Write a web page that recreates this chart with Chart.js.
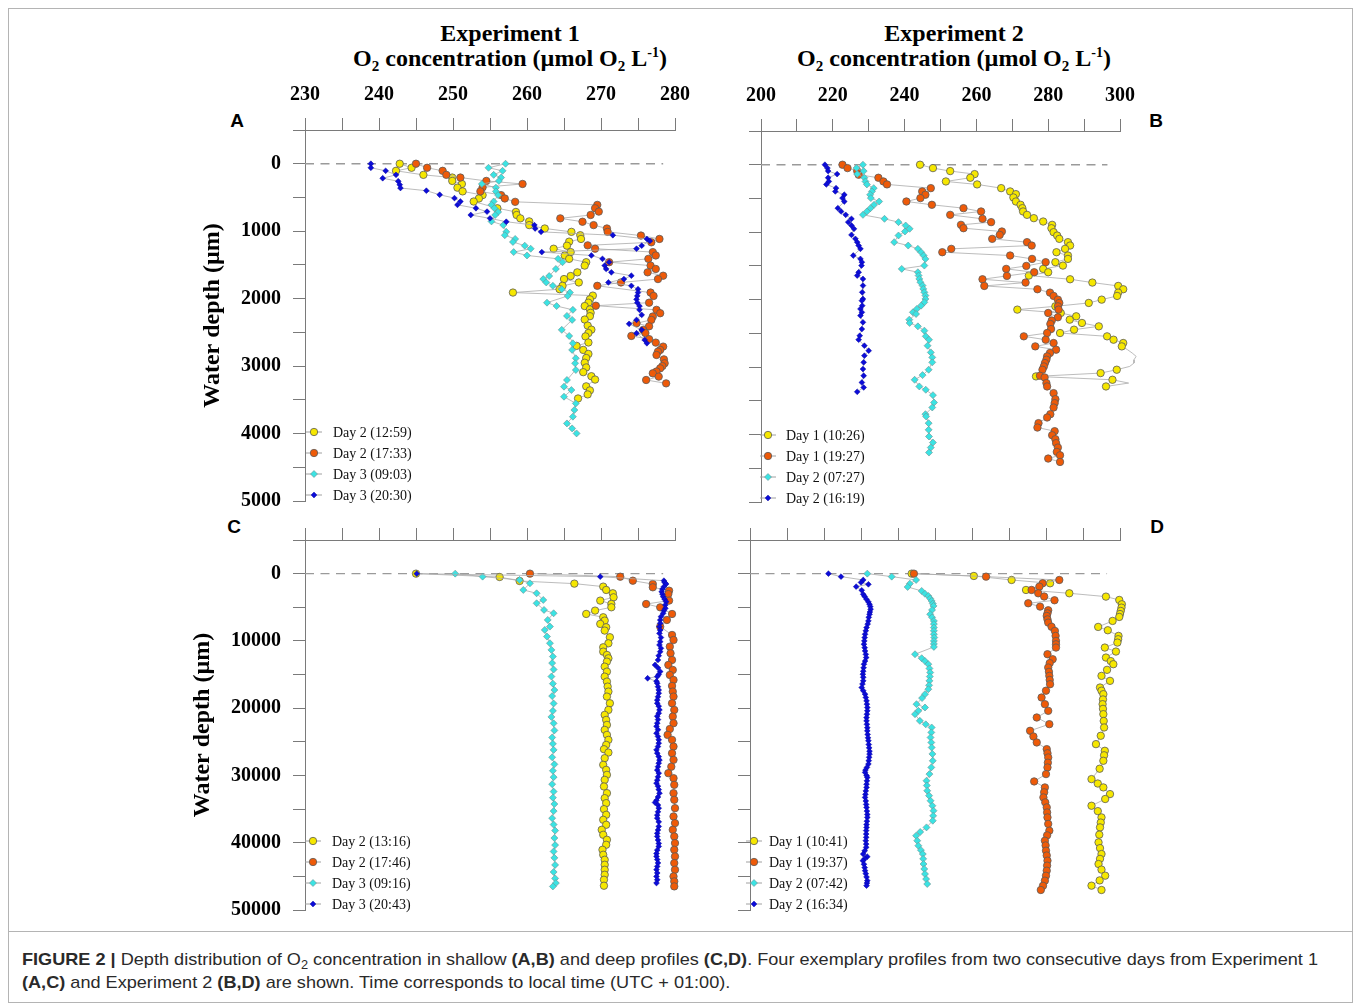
<!DOCTYPE html>
<html>
<head>
<meta charset="utf-8">
<script src="https://cdn.jsdelivr.net/npm/chart.js@4.4.0/dist/chart.umd.min.js"></script>
<style>
  body { margin: 0; background: #fff; width: 1360px; height: 1003px; position: relative; overflow: hidden; }
  canvas { position: absolute; }
  .ttl { position: absolute; font: bold 24px "Liberation Serif"; line-height: 26px; white-space: nowrap; transform: translateX(-50%); color: #000; }
  .ttl sub { font-size: 15px; vertical-align: -5px; line-height: 0; }
  .ttl sup { font-size: 14px; vertical-align: 9px; line-height: 0; }
  .letter { position: absolute; font: bold 19px "Liberation Sans"; line-height: 20px; transform: translate(-50%, -50%); }
  #frame { position: absolute; left: 8px; top: 8px; width: 1343px; height: 993px; border: 1px solid #b4b4b4; }
  #sep { position: absolute; left: 8px; top: 931px; width: 1345px; height: 1px; background: #b4b4b4; }
  .cap { position: absolute; left: 22px; font: 17px "Liberation Sans"; line-height: 20px; color: #2a2a2a; white-space: nowrap; transform-origin: 0 50%; }
  .cap sub { font-size: 12px; line-height: 0; }
</style>
</head>
<body>
<div id="frame"></div>
<div id="sep"></div>

<div class="ttl" style="left:510px; top:20px;">Experiment 1</div>
<div class="ttl" style="left:510px; top:45px;">O<sub>2</sub> concentration (µmol O<sub>2</sub> L<sup>-1</sup>)</div>
<div class="ttl" style="left:954px; top:20px;">Experiment 2</div>
<div class="ttl" style="left:954px; top:45px;">O<sub>2</sub> concentration (µmol O<sub>2</sub> L<sup>-1</sup>)</div>

<div class="letter" style="left:237px; top:121px;">A</div>
<div class="letter" style="left:1156px; top:121px;">B</div>
<div class="letter" style="left:234px; top:527px;">C</div>
<div class="letter" style="left:1157px; top:527px;">D</div>

<canvas id="cA" width="505" height="446" style="left:190px; top:70px;"></canvas>
<canvas id="cB" width="405" height="447" style="left:735px; top:70px;"></canvas>
<canvas id="cC" width="515" height="410" style="left:180px; top:515px;"></canvas>
<canvas id="cD" width="405" height="410" style="left:735px; top:515px;"></canvas>

<div class="cap" id="cap1" style="top:950px;"><b>FIGURE 2 |</b> Depth distribution of O<sub>2</sub> concentration in shallow <b>(A,B)</b> and deep profiles <b>(C,D)</b>. Four exemplary profiles from two consecutive days from Experiment 1</div>
<div class="cap" id="cap2" style="top:973px;"><b>(A,C)</b> and Experiment 2 <b>(B,D)</b> are shown. Time corresponds to local time (UTC + 01:00).</div>

<script>
// tick labels
const exp1Labels = [230, 240, 250, 260, 270, 280];
const exp2Labels = [200, 220, 240, 260, 280, 300];
const shallowLabels = [0, 1000, 2000, 3000, 4000, 5000];
const deepLabels = [0, 10000, 20000, 30000, 40000, 50000];

// legend names
const namesA = ["Day 2 (12:59)", "Day 2 (17:33)", "Day 3 (09:03)", "Day 3 (20:30)"];
const namesB = ["Day 1 (10:26)", "Day 1 (19:27)", "Day 2 (07:27)", "Day 2 (16:19)"];
const namesC = ["Day 2 (13:16)", "Day 2 (17:46)", "Day 3 (09:16)", "Day 3 (20:43)"];
const namesD = ["Day 1 (10:41)", "Day 1 (19:37)", "Day 2 (07:42)", "Day 2 (16:34)"];

// dashed surface line (x extent, depth 0)
const surfaceExp1 = [230, 278.4];
const surfaceExp2 = [200, 296.5];

// profiles: [O2, depth]
// panel A (Experiment 1, shallow)
const aDay2_1259 = [[242.8,0],[244.4,60],[242.3,105],[246.0,165],[249.9,205],[249.9,255],[251.2,300],[250.6,355],[251.3,410],[254.0,465],[253.5,515],[252.8,560],[256.0,660],[258.5,715],[258.6,760],[259.1,810],[260.3,855],[260.3,910],[262.4,960],[266.0,1010],[267.2,1060],[267.3,1115],[265.7,1155],[265.4,1215],[263.6,1260],[265.9,1310],[265.1,1360],[265.7,1410],[268.0,1460],[267.8,1510],[266.8,1610],[265.9,1665],[265.0,1710],[267.0,1760],[264.8,1810],[264.4,1860],[258.1,1910],[268.9,1955],[268.5,2010],[268.3,2060],[267.8,2110],[268.5,2160],[268.6,2210],[268.5,2260],[267.8,2310],[268.2,2400],[268.7,2460],[268.3,2510],[267.9,2560],[268.3,2650],[266.7,2700],[267.6,2760],[268.3,2820],[268.0,2880],[267.8,2950],[268.0,3020],[267.6,3090],[268.7,3150],[269.2,3200],[268.0,3300],[268.5,3360],[268.2,3420],[266.9,3480]];
const aDay2_1733 = [[245.0,0],[246.5,60],[248.6,105],[249.1,165],[251.0,205],[254.5,255],[259.4,300],[254.0,350],[253.7,410],[256.5,465],[257.0,515],[258.4,565],[269.5,610],[269.2,660],[269.7,710],[268.6,760],[264.5,810],[267.5,860],[269.0,910],[270.8,960],[270.9,1010],[275.4,1065],[277.9,1115],[276.8,1165],[268.2,1210],[269.2,1260],[277.0,1310],[277.4,1360],[276.4,1410],[271.1,1460],[276.7,1510],[277.4,1560],[276.3,1610],[278.4,1660],[277.7,1710],[272.7,1760],[269.5,1810],[276.7,1910],[277.1,1960],[276.5,2060],[269.3,2105],[277.5,2166],[278.0,2216],[277.0,2265],[276.8,2315],[274.8,2365],[276.5,2410],[275.7,2463],[276.0,2510],[274.1,2553],[276.5,2600],[277.4,2652],[278.4,2711],[278.0,2760],[277.7,2785],[277.5,2835],[278.5,2900],[278.6,2958],[278.3,3000],[278.0,3033],[277.5,3080],[277.0,3107],[277.8,3156],[276.1,3206],[278.8,3256]];
const aDay3_0903 = [[257.1,0],[254.8,60],[256.7,105],[255.5,165],[256.5,205],[256.2,255],[253.9,300],[255.8,355],[255.8,410],[256.1,465],[255.5,560],[255.2,610],[255.6,660],[256.1,715],[255.7,760],[255.2,855],[256.8,910],[257.2,1010],[257.0,1060],[258.4,1115],[258.1,1160],[259.7,1215],[260.5,1260],[258.2,1310],[260.0,1360],[264.2,1410],[264.8,1460],[263.9,1560],[263.0,1665],[262.2,1710],[262.6,1760],[263.5,1810],[264.7,1860],[265.8,1910],[265.5,1960],[262.7,2060],[264.0,2110],[266.2,2166],[265.4,2256],[266.1,2315],[264.7,2463],[265.7,2553],[266.2,2662],[266.1,2760],[266.6,2884],[266.5,2958],[266.6,3058],[265.4,3206],[265.0,3305],[266.0,3355],[265.0,3454],[266.6,3553],[266.4,3651],[266.2,3750],[265.4,3850],[266.1,3924],[266.7,3998]];
const aDay3_2030 = [[238.9,0],[238.9,60],[240.9,105],[242.3,165],[240.5,215],[242.6,260],[242.8,310],[242.9,360],[246.4,400],[248.2,460],[250.2,510],[251.0,560],[250.6,610],[253.1,660],[254.6,710],[252.4,760],[255.0,810],[257.2,860],[261.0,910],[261.1,960],[261.9,1010],[271.6,1060],[276.2,1115],[276.6,1145],[275.5,1215],[274.8,1260],[262.0,1310],[268.7,1360],[270.2,1410],[271.1,1460],[270.5,1510],[270.7,1560],[271.4,1610],[274.1,1660],[273.1,1710],[271.0,1760],[274.1,1810],[275.0,1860],[275.0,1910],[274.9,1960],[274.8,2010],[274.9,2060],[275.2,2110],[275.2,2166],[275.5,2241],[274.8,2315],[273.8,2374],[275.5,2463],[274.8,2513],[275.9,2612],[276.2,2662]];

// panel B (Experiment 2, shallow)
const bDay1_1026 = [[244.3,0],[247.9,50],[252.7,94],[259.5,139],[258.3,193],[251.5,248],[260.2,292],[266.9,347],[269.4,396],[271.0,436],[270.3,485],[271.0,545],[272.3,594],[272.8,644],[273.0,693],[274.1,743],[276.0,792],[278.6,842],[281.1,891],[280.9,941],[281.5,1000],[282.5,1050],[283.1,1099],[285.5,1148],[286.1,1198],[284.7,1247],[282.3,1297],[285.5,1346],[285.5,1396],[282.0,1445],[284.1,1495],[278.6,1544],[280.0,1594],[274.6,1643],[286.1,1698],[292.3,1747],[299.5,1797],[300.9,1846],[299.5,1896],[299.2,1945],[294.9,2000],[291.3,2049],[282.0,2099],[271.4,2148],[283.5,2198],[287.8,2247],[286.0,2297],[289.4,2346],[294.1,2396],[287.2,2445],[283.3,2495],[296.4,2544],[298.2,2594],[300.9,2643],[300.5,2693],[302.1,2742],[303.4,2792],[304.5,2841],[303.9,2891],[303.9,2940],[302.7,2990],[299.1,3039],[294.6,3089],[276.6,3138],[297.9,3188],[302.4,3237],[296.1,3287]];
const bDay1_1927 = [[222.7,0],[224.1,50],[226.8,94],[227.2,148],[232.7,193],[234.1,248],[235.1,292],[247.3,347],[244.9,396],[245.8,445],[244.4,495],[240.5,545],[247.6,594],[256.4,644],[261.3,693],[252.7,743],[261.7,802],[264.1,851],[255.7,891],[256.4,941],[267.1,990],[266.5,1040],[264.4,1099],[274.1,1148],[275.4,1198],[253.0,1247],[250.5,1297],[269.4,1346],[275.5,1396],[279.3,1445],[273.9,1500],[268.3,1544],[276.1,1594],[268.5,1648],[261.7,1698],[273.7,1747],[262.2,1797],[277.0,1846],[280.5,1896],[281.5,1945],[282.7,2000],[283.1,2049],[282.7,2099],[282.9,2148],[280.0,2198],[282.7,2262],[281.0,2310],[280.6,2361],[280.8,2436],[279.7,2495],[273.2,2544],[279.3,2594],[281.5,2643],[276.4,2693],[282.2,2742],[280.5,2790],[279.7,2841],[279.5,2890],[279.1,2940],[278.8,2990],[278.4,3039],[277.7,3128],[279.0,3153],[279.5,3237],[279.7,3287],[281.5,3386],[282.0,3475],[281.8,3534],[281.5,3599],[280.6,3698],[279.7,3747],[277.3,3831],[277.0,3896],[281.8,3950],[281.1,4010],[282.0,4069],[282.2,4128],[282.7,4193],[282.4,4257],[283.3,4307],[280.0,4356],[283.3,4406]];
const bDay2_0727 = [[228.4,0],[226.6,50],[228.6,94],[226.8,139],[228.8,193],[229.1,248],[229.5,292],[231.4,347],[230.9,396],[230.4,445],[230.6,495],[232.9,545],[231.5,594],[230.5,644],[229.5,693],[228.4,743],[234.4,802],[238.3,851],[240.3,901],[241.4,950],[240.1,990],[238.3,1049],[237.1,1148],[241.0,1198],[243.7,1247],[244.6,1297],[245.3,1346],[245.8,1396],[245.5,1495],[239.2,1544],[243.7,1594],[243.9,1643],[244.1,1693],[244.4,1742],[245.0,1792],[245.2,1841],[245.5,1891],[245.8,1940],[245.8,1990],[245.5,2039],[244.6,2089],[243.4,2138],[242.3,2188],[243.2,2213],[241.3,2297],[241.4,2346],[243.7,2396],[245.5,2460],[245.9,2544],[246.8,2594],[246.4,2683],[247.3,2782],[247.7,2856],[247.7,2930],[246.7,3039],[245.0,3119],[242.8,3188],[244.1,3287],[245.9,3336],[247.9,3416],[248.2,3525],[247.7,3599],[245.8,3698],[246.0,3732],[246.7,3831],[246.7,3930],[246.8,4029],[247.9,4119],[247.3,4193],[246.8,4267]];
const bDay2_1619 = [[217.8,0],[218.5,50],[218.7,94],[221.2,139],[218.7,193],[218.9,248],[218.2,292],[220.9,347],[220.7,396],[223.2,445],[222.7,495],[223.2,545],[221.4,644],[222.3,693],[223.6,743],[225.2,802],[224.3,851],[225.2,901],[225.9,950],[225.2,1040],[226.3,1099],[226.8,1148],[227.2,1198],[227.7,1247],[225.7,1346],[227.7,1396],[228.1,1445],[228.0,1495],[227.2,1594],[226.8,1643],[228.4,1693],[228.4,1792],[228.2,1891],[228.4,1990],[228.1,2015],[228.2,2089],[227.7,2138],[228.1,2188],[227.7,2237],[228.4,2336],[228.1,2436],[227.5,2535],[227.2,2594],[228.8,2683],[230.0,2757],[228.8,2831],[228.6,2930],[228.4,3029],[228.6,3128],[228.1,3228],[228.6,3302],[226.8,3366]];

// panel C (Experiment 1, deep)
const cDay2_1316 = [[245.0,0],[256.3,500],[259.0,1090],[266.4,1485],[270.3,1930],[270.7,2425],[271.6,2920],[271.7,3515],[269.9,4010],[271.4,4505],[271.4,5000],[269.2,5495],[268.0,5990],[270.3,6485],[270.5,6980],[269.9,7475],[270.7,7970],[270.5,8465],[271.2,9455],[271.0,10356],[270.3,10950],[270.3,11593],[270.8,12088],[271.0,12583],[270.8,13078],[270.5,13821],[270.8,14563],[270.5,15306],[270.8,16048],[270.9,16791],[271.0,17533],[270.8,18276],[271.2,19266],[271.0,20256],[270.5,20998],[270.7,21741],[270.8,22483],[270.5,23226],[270.8,23968],[271.0,24711],[270.7,25453],[270.4,26097],[271.0,26592],[270.5,27433],[270.3,28423],[270.7,29166],[270.8,29908],[270.5,30651],[270.4,31641],[270.8,32631],[270.5,33373],[270.7,34116],[270.4,35007],[270.7,35848],[270.3,36591],[270.7,37333],[270.1,38076],[270.3,38818],[270.8,39561],[270.7,40303],[270.2,41046],[270.3,41788],[270.5,42531],[270.5,43273],[270.5,44016],[270.5,44758],[270.4,45501],[270.4,46392]];
const cDay2_1746 = [[260.4,0],[272.6,455],[274.3,1049],[277.0,1544],[277.0,2030],[279.2,2534],[279.1,3029],[279.2,4010],[276.1,4514],[278.0,5009],[279.6,5999],[278.9,6890],[278.0,7880],[279.6,9118],[279.8,9860],[279.3,10850],[279.4,11840],[279.6,12830],[279.1,13573],[279.7,14315],[279.3,15058],[279.8,15800],[279.6,16692],[279.7,17533],[279.8,18276],[279.6,19266],[279.9,20256],[279.7,21246],[279.8,22236],[279.3,23100],[279.0,23968],[279.6,24711],[279.8,25701],[279.6,26691],[279.8,27681],[279.5,28700],[279.1,29661],[279.8,30403],[279.9,31394],[279.8,32631],[279.9,33621],[280.0,34859],[279.8,36096],[280.0,37086],[279.7,38076],[279.9,39066],[280.0,40056],[279.9,41046],[280.0,42036],[279.9,43026],[280.0,44016],[279.8,45006],[279.9,45749],[279.9,46491]];
const cDay3_0916 = [[250.3,0],[254.0,446],[259.0,941],[260.4,1436],[259.5,2426],[261.3,2921],[262.2,3911],[261.3,4406],[262.3,5396],[263.6,5891],[262.8,6881],[263.1,7871],[262.4,8366],[262.7,9356],[263.1,10346],[263.3,11336],[263.5,12326],[263.4,13300],[263.6,14250],[263.3,15300],[263.5,16350],[263.7,17300],[263.4,18200],[263.6,19300],[263.5,20400],[263.3,21300],[263.6,22250],[263.7,23300],[263.4,24350],[263.5,25300],[263.6,26200],[263.4,27300],[263.7,28350],[263.5,29300],[263.6,30250],[263.4,31300],[263.6,32400],[263.5,33300],[263.7,34250],[263.6,35300],[263.4,36350],[263.6,37300],[263.8,38200],[263.7,39300],[263.8,40350],[263.6,41300],[263.7,42250],[263.8,43300],[263.6,44350],[263.8,45300],[263.9,46000],[263.5,46500]];
const cDay3_2043 = [[245.1,0],[269.9,455],[278.5,1049],[278.6,1300],[278.8,1544],[278.5,1931],[278.3,2300],[278.2,2683],[278.3,3050],[278.4,3425],[278.6,3800],[278.8,4168],[278.7,4650],[278.7,5158],[278.5,5500],[278.4,5900],[278.1,6395],[278.0,6900],[278.0,7385],[277.9,7900],[278.0,8400],[277.9,8870],[278.1,9500],[278.0,10108],[277.9,10600],[278.1,11100],[278.0,11593],[277.8,12200],[277.7,12830],[277.3,13573],[277.7,14000],[278.0,14563],[277.8,15000],[277.6,15306],[276.3,15553],[277.5,16000],[277.6,16296],[277.7,16800],[277.8,17300],[277.8,17781],[277.7,18300],[277.6,18800],[277.6,19266],[277.8,19700],[277.9,20251],[277.8,20751],[277.6,21200],[277.7,21700],[277.6,22236],[277.5,22700],[277.7,23200],[277.5,23721],[277.7,24200],[277.8,24700],[277.8,25206],[277.7,25700],[277.5,26200],[277.6,26691],[277.8,27200],[277.9,27700],[277.8,28176],[277.7,28700],[277.6,29200],[277.8,29661],[277.7,30200],[277.6,30700],[277.5,31146],[277.7,31600],[277.8,32100],[277.9,32631],[277.7,33200],[277.5,33700],[277.3,34017],[277.7,34400],[277.8,34859],[277.7,35400],[277.6,35900],[277.6,36344],[277.8,36900],[277.8,37581],[277.7,38100],[277.6,38600],[277.6,39066],[277.7,39600],[277.8,40100],[277.8,40551],[277.6,41100],[277.5,41600],[277.5,42036],[277.6,42500],[277.7,43000],[277.6,43521],[277.5,44000],[277.6,44500],[277.5,45006],[277.6,45500],[277.5,45996]];

// panel D (Experiment 2, deep)
const dDay1_1041 = [[243.7,0],[260.5,347],[270.7,941],[281.1,1436],[274.6,2426],[286.3,2921],[296.2,3416],[299.8,3911],[300.5,4554],[300.4,5050],[300.2,5544],[300.0,6000],[299.8,6435],[298.0,7029],[294.1,7920],[296.7,8415],[299.6,9257],[299.5,9750],[299.3,10247],[295.9,10989],[298.9,11583],[296.2,12474],[297.5,13000],[298.2,13464],[296.5,14300],[295.0,15197],[297.3,15939],[294.6,16929],[295.0,17400],[295.5,17919],[295.4,18700],[295.3,19404],[295.4,20100],[295.5,20889],[295.6,21900],[295.7,22869],[294.8,24100],[293.5,25344],[295.9,26334],[295.7,27000],[295.5,27819],[294.5,29000],[292.3,30542],[294.0,31200],[295.5,31779],[297.3,32769],[296.0,33500],[292.3,34502],[294.0,35300],[295.0,36234],[294.8,37000],[294.6,37719],[294.4,38800],[294.2,39947],[294.6,40800],[295.0,41679],[294.6,42400],[294.2,43164],[295.0,44000],[296.0,44897],[294.5,45600],[292.3,46382],[295.0,47025]];
const dDay1_1937 = [[244.3,0],[263.8,446],[283.6,941],[279.1,1436],[278.2,1931],[276.1,2426],[277.9,2921],[279.5,3400],[282.3,3960],[275.2,4406],[278.4,4901],[280.6,5445],[280.4,5900],[280.2,6287],[280.4,6800],[280.6,7277],[281.5,7900],[282.4,8514],[282.6,9250],[282.7,9999],[282.7,10500],[282.7,10989],[280.4,11979],[281.8,12722],[281.0,13300],[280.6,13959],[280.8,14600],[280.9,15197],[281.0,15800],[281.1,16434],[280.0,17400],[278.8,18414],[279.7,19404],[280.6,20394],[277.5,21384],[280.9,22374],[275.7,23364],[276.6,24200],[277.5,25097],[280.2,26087],[280.4,26700],[280.6,27324],[280.5,28100],[280.4,28809],[280.0,29800],[276.8,30888],[279.7,31779],[279.5,32500],[279.3,33264],[279.8,34000],[280.2,34749],[280.3,35500],[280.4,36234],[280.6,37200],[280.9,38214],[280.3,38900],[279.7,39699],[279.9,40400],[280.0,41184],[280.2,41900],[280.4,42669],[280.3,43400],[280.2,44154],[280.0,44900],[279.7,45639],[279.2,46400],[278.6,47025]];
const dDay2_0742 = [[231.7,0],[238.3,446],[244.9,941],[243.2,1485],[242.6,1980],[246.4,2574],[247.3,3000],[248.2,3317],[248.7,3700],[249.1,4059],[249.4,4450],[249.6,4802],[249.2,5400],[248.7,6039],[249.2,6500],[249.7,7029],[249.7,7500],[249.7,8019],[249.7,8500],[249.7,9009],[249.8,9500],[249.7,9999],[249.7,10450],[249.7,10890],[244.6,11979],[246.4,12573],[247.3,13000],[248.2,13464],[248.5,14100],[248.7,14702],[248.6,15300],[248.5,15939],[248.4,16600],[248.2,17177],[247.3,17919],[246.5,18500],[245.0,19404],[247.3,19899],[245.5,20400],[244.6,20889],[245.9,21879],[247.5,22400],[249.1,22869],[249.0,23600],[248.8,24354],[249.0,25100],[249.1,25839],[249.3,26800],[249.4,27819],[249.0,28800],[248.5,29799],[247.7,30789],[247.8,31500],[247.9,32274],[248.4,33000],[248.8,33759],[249.3,34500],[249.6,35244],[249.5,36000],[249.4,36729],[247.7,37719],[246.0,38400],[244.9,38957],[245.2,39700],[245.5,40442],[246.2,41100],[246.7,41679],[246.8,42400],[246.9,43164],[247.1,43900],[247.3,44649],[247.6,45400],[247.9,46134]];
const dDay2_1634 = [[221.2,0],[224.6,446],[230.6,941],[230.0,1300],[232.0,1584],[228.7,1931],[230.2,2475],[230.6,3069],[231.0,3400],[231.5,3812],[232.0,4200],[232.3,4554],[232.5,4900],[232.6,5297],[232.4,5700],[232.3,6039],[232.1,6500],[232.0,7029],[231.8,7500],[231.5,8019],[231.3,8500],[231.1,9009],[231.0,9500],[230.9,10000],[230.8,10494],[231.0,11000],[231.1,11484],[231.3,12000],[231.4,12474],[231.1,13000],[230.8,13464],[230.7,14000],[230.6,14500],[230.5,14949],[230.6,15400],[230.6,15939],[230.4,16400],[230.2,16929],[230.6,17400],[231.1,17919],[231.3,18400],[231.5,18909],[231.6,19400],[231.7,19900],[231.7,20394],[231.6,20900],[231.5,21400],[231.5,21879],[231.6,22400],[231.7,22900],[231.7,23364],[231.8,23900],[231.9,24400],[232.0,24849],[232.1,25400],[232.2,25900],[232.3,26400],[232.3,26829],[232.2,27300],[232.1,27800],[232.0,28314],[231.6,28800],[231.2,29200],[231.1,29552],[231.5,30000],[231.7,30294],[231.6,30800],[231.5,31300],[231.5,31779],[231.3,32300],[231.2,32800],[231.1,33264],[231.3,33800],[231.4,34300],[231.5,34749],[231.6,35300],[231.7,35800],[231.7,36234],[231.6,36800],[231.5,37300],[231.5,37719],[231.4,38200],[231.4,38700],[231.4,39204],[231.3,39700],[231.4,40200],[231.4,40689],[231.0,41200],[230.6,41679],[231.7,42075],[231.0,42400],[230.5,42669],[230.8,43200],[231.0,43700],[231.1,44154],[231.3,44600],[231.5,45100],[231.7,45639],[231.6,46000],[231.5,46382]];

// marker looks, in order yellow / orange / cyan / blue
const looks = [
  { bg: "#f6e700", bd: "#5a5a5a", shape: "circle", r: 3.7, bw: 0.8 },
  { bg: "#ee5a08", bd: "#5a5a5a", shape: "circle", r: 3.7, bw: 0.8 },
  { bg: "#3be3e3", bd: "#6e9090", shape: "rectRot", r: 3.5, bw: 0.6 },
  { bg: "#0c0cd8", bd: "#0505a0", shape: "rectRot", r: 2.9, bw: 0.5 }
];

const AXIS = "#7a7a7a";
const tickFont = { family: "Liberation Serif", size: 20, weight: "bold" };

const insideLegend = {
  id: "insideLegend",
  afterDatasetsDraw(chart, args, opts) {
    const ctx = chart.ctx, a = chart.chartArea;
    opts.labels.forEach((txt, i) => {
      const lk = looks[i];
      const x = a.left + opts.dx, y = a.bottom + opts.dy + i * 21;
      ctx.save();
      ctx.strokeStyle = "#a0a0a0";
      ctx.lineWidth = 1;
      ctx.beginPath();
      ctx.moveTo(x - 8, y);
      ctx.lineTo(x + 8, y);
      ctx.stroke();
      ctx.fillStyle = lk.bg;
      ctx.strokeStyle = lk.bd;
      ctx.lineWidth = lk.bw;
      Chart.helpers.drawPoint(ctx, { pointStyle: lk.shape, radius: lk.r, borderWidth: lk.bw, rotation: 0 }, x, y);
      ctx.fillStyle = "#111";
      ctx.font = '14px "Liberation Serif"';
      ctx.textBaseline = "middle";
      ctx.textAlign = "left";
      ctx.fillText(txt, a.left + opts.tx, y + 1);
      ctx.restore();
    });
  }
};

function makePanel(id, p) {
  const datasets = p.series.map((s, i) => ({
    data: s.map(v => ({ x: v[0], y: v[1] })),
    showLine: true,
    borderColor: "#ababab",
    borderWidth: 0.8,
    pointStyle: looks[i].shape,
    pointRadius: looks[i].r,
    pointBackgroundColor: looks[i].bg,
    pointBorderColor: looks[i].bd,
    pointBorderWidth: looks[i].bw,
    clip: false,
    order: 4 - i
  }));
  datasets.push({
    data: [{ x: p.surface[0], y: 0 }, { x: p.surface[1], y: 0 }],
    showLine: true,
    borderColor: "#9a9a9a",
    borderWidth: 1.3,
    borderDash: [9, 6.5],
    pointRadius: 0,
    order: 10
  });

  const chart = new Chart(document.getElementById(id), {
    type: "scatter",
    data: { datasets },
    options: {
      responsive: false,
      maintainAspectRatio: false,
      animation: false,
      devicePixelRatio: 1,
      events: [],
      layout: { padding: { left: 0, top: 0, right: p.L + p.W - p.area.x2, bottom: p.T + p.H - p.area.y2 } },
      plugins: {
        legend: { display: false },
        tooltip: { enabled: false },
        insideLegend: p.legend
      },
      scales: {
        x: {
          type: "linear",
          position: "top",
          min: p.xMin,
          max: p.xMax,
          afterFit: s => { s.height = p.area.y1 - p.T; },
          ticks: {
            stepSize: p.xStep,
            autoSkip: false,
            maxRotation: 0,
            padding: 11,
            color: "#000",
            font: tickFont,
            callback: v => (p.xLabels.includes(Math.round(v)) ? String(Math.round(v)) : "")
          },
          grid: { drawOnChartArea: false, drawTicks: true, tickLength: 12, color: AXIS, lineWidth: 1 },
          border: { display: true, color: AXIS, width: 1 }
        },
        y: {
          type: "linear",
          position: "left",
          reverse: true,
          min: p.yMin,
          max: p.yMax,
          afterFit: s => { s.width = p.area.x1 - p.L; },
          title: p.yTitle
            ? { display: true, text: p.yTitle, color: "#000", padding: { top: 8, bottom: 0 },
                font: { family: "Liberation Serif", size: 24, weight: "bold" } }
            : { display: false },
          ticks: {
            stepSize: p.yStep,
            autoSkip: false,
            padding: 12,
            color: "#000",
            font: tickFont,
            callback: v => (p.yLabels.includes(Math.round(v)) ? String(Math.round(v)) : "")
          },
          grid: { drawOnChartArea: false, drawTicks: true, tickLength: 12, color: AXIS, lineWidth: 1 },
          border: { display: true, color: AXIS, width: 1 }
        }
      }
    },
    plugins: [insideLegend]
  });

  // the layout keeps some extra room; grow the canvas until the plot box sits where it should
  for (let k = 0; k < 3; k++) {
    const a = chart.chartArea;
    const dw = (p.area.x2 - p.L) - a.right;
    const dh = (p.area.y2 - p.T) - a.bottom;
    if (Math.abs(dw) < 0.5 && Math.abs(dh) < 0.5) break;
    chart.resize(Math.round(chart.width + dw), Math.round(chart.height + dh));
  }
}

makePanel("cA", {
  L: 190, T: 70, W: 505, H: 446, area: { x1: 305, y1: 130, x2: 675, y2: 501 },
  xMin: 230, xMax: 280, xStep: 5, xLabels: exp1Labels,
  yMin: -500, yMax: 5000, yStep: 500, yLabels: shallowLabels,
  yTitle: "Water depth (µm)",
  series: [aDay2_1259, aDay2_1733, aDay3_0903, aDay3_2030],
  surface: surfaceExp1,
  legend: { labels: namesA, dx: 9, tx: 28, dy: -69 }
});
makePanel("cB", {
  L: 735, T: 70, W: 405, H: 447, area: { x1: 750, y1: 131, x2: 1120, y2: 502 },
  xMin: 200, xMax: 300, xStep: 10, xLabels: exp2Labels,
  yMin: -500, yMax: 5000, yStep: 500, yLabels: [],
  yTitle: null,
  series: [bDay1_1026, bDay1_1927, bDay2_0727, bDay2_1619],
  surface: surfaceExp2,
  legend: { labels: namesB, dx: 7, tx: 25, dy: -67 }
});
makePanel("cC", {
  L: 180, T: 515, W: 515, H: 410, area: { x1: 305, y1: 540, x2: 675, y2: 910 },
  xMin: 230, xMax: 280, xStep: 5, xLabels: [],
  yMin: -5000, yMax: 50000, yStep: 5000, yLabels: deepLabels,
  yTitle: "Water depth (µm)",
  series: [cDay2_1316, cDay2_1746, cDay3_0916, cDay3_2043],
  surface: surfaceExp1,
  legend: { labels: namesC, dx: 8, tx: 27, dy: -69 }
});
makePanel("cD", {
  L: 735, T: 515, W: 405, H: 410, area: { x1: 750, y1: 540, x2: 1120, y2: 910 },
  xMin: 200, xMax: 300, xStep: 10, xLabels: [],
  yMin: -5000, yMax: 50000, yStep: 5000, yLabels: [],
  yTitle: null,
  series: [dDay1_1041, dDay1_1937, dDay2_0742, dDay2_1634],
  surface: surfaceExp2,
  legend: { labels: namesD, dx: 4, tx: 19, dy: -69 }
});

// squeeze the caption to the width of the original line
const cap1 = document.getElementById("cap1");
const k = 1296 / cap1.getBoundingClientRect().width;
["cap1", "cap2"].forEach(id => { document.getElementById(id).style.transform = "scaleX(" + k + ")"; });
</script>
</body>
</html>
